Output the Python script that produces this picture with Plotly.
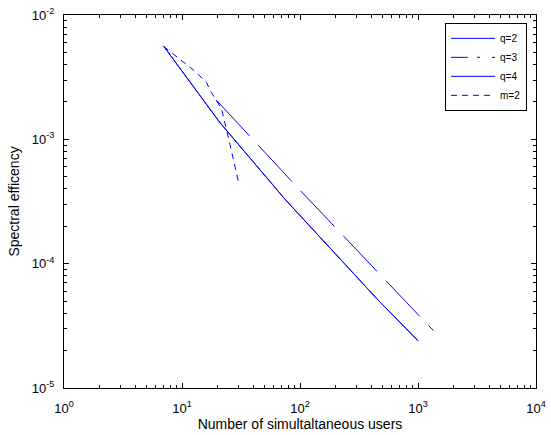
import plotly.graph_objects as go

# ---- data ----
users_q2 = [7, 21, 75, 455, 1000]
se_q2 = [5.6e-3, 1.36e-3, 3.28e-4, 5.14e-5, 2.4e-5]

users_q3 = [19.5, 100, 1000, 1350]
se_q3 = [2.07e-3, 3.9e-4, 3.9e-5, 2.9e-5]

users_q4 = [7, 21, 75, 455, 1000]
se_q4 = [5.6e-3, 1.36e-3, 3.28e-4, 5.14e-5, 2.4e-5]

users_m2 = [7, 12.9, 16.2, 17.3, 19.5, 21.7, 25.5, 30]
se_m2 = [5.58e-3, 3.53e-3, 2.85e-3, 2.47e-3, 2.07e-3, 1.74e-3, 9.1e-4, 4.6e-4]

x_tick_exp = [0, 1, 2, 3, 4]
y_tick_exp = [-5, -4, -3, -2]

# ---- styling ----
BLUE = "#0000FF"
FONT = "Liberation Sans, Arial, Helvetica, sans-serif"

x_vals = [10.0 ** e for e in x_tick_exp]
x_text = ["10<sup>%d</sup>" % e for e in x_tick_exp]
y_vals = [10.0 ** e for e in y_tick_exp]
y_text = ["10<sup>%d</sup>" % e for e in y_tick_exp]
x_minor = [m * 10.0 ** e for e in x_tick_exp[:-1] for m in range(2, 10)]
y_minor = [m * 10.0 ** e for e in y_tick_exp[:-1] for m in range(2, 10)]

fig = go.Figure()

fig.add_trace(go.Scatter(x=users_q2, y=se_q2, mode="lines", name="q=2",
                         line=dict(color=BLUE, width=1)))
fig.add_trace(go.Scatter(x=users_q3, y=se_q3, mode="lines", name="q=3",
                         legendgroup="q3", showlegend=False,
                         line=dict(color=BLUE, width=1, dash="49px,13px")))
fig.add_trace(go.Scatter(x=[None], y=[None], mode="lines", name="q=3",
                         legendgroup="q3",
                         line=dict(color=BLUE, width=1, dash="17px,9px,3px,12px")))
fig.add_trace(go.Scatter(x=users_q4, y=se_q4, mode="lines", name="q=4",
                         line=dict(color=BLUE, width=1)))
fig.add_trace(go.Scatter(x=users_m2, y=se_m2, mode="lines", name="m=2",
                         line=dict(color=BLUE, width=1, dash="6px,5px")))

axis_common = dict(
    type="log", automargin=False,
    showline=True, linecolor="black", linewidth=1, mirror="ticks",
    ticks="inside", ticklen=5, tickcolor="black", tickwidth=1,
    showgrid=False, zeroline=False, ticklabeloverflow="allow",
    tickfont=dict(family=FONT, size=13, color="black"),
)

fig.update_xaxes(
    range=[0, 4], tickvals=x_vals, ticktext=x_text,
    ticklabelstandoff=8,
    minor=dict(ticks="inside", ticklen=3, tickcolor="black", tickvals=x_minor, showgrid=False),
    title=dict(text="Number of simultaltaneous users",
               font=dict(family=FONT, size=14, color="black"), standoff=4),
    **axis_common,
)
fig.update_yaxes(
    range=[-5, -2], tickvals=y_vals, ticktext=y_text,
    ticklabelstandoff=6,
    minor=dict(ticks="inside", ticklen=3, tickcolor="black", tickvals=y_minor, showgrid=False),
    title=dict(text="Spectral efficency",
               font=dict(family=FONT, size=14, color="black"), standoff=8),
    **axis_common,
)

fig.update_layout(
    width=551, height=435,
    margin=dict(l=64, r=15, t=15, b=47),
    paper_bgcolor="white", plot_bgcolor="white",
    font=dict(family=FONT, color="black"),
    legend=dict(
        x=0.981, y=0.979, xanchor="right", yanchor="top",
        bgcolor="white", bordercolor="black", borderwidth=1,
        font=dict(family=FONT, size=10, color="black"),
        tracegroupgap=0, itemwidth=44,
    ),
    showlegend=True,
)

fig.write_html("out.html", config={"displayModeBar": False},
               post_script="document.body.style.margin='0px';")
